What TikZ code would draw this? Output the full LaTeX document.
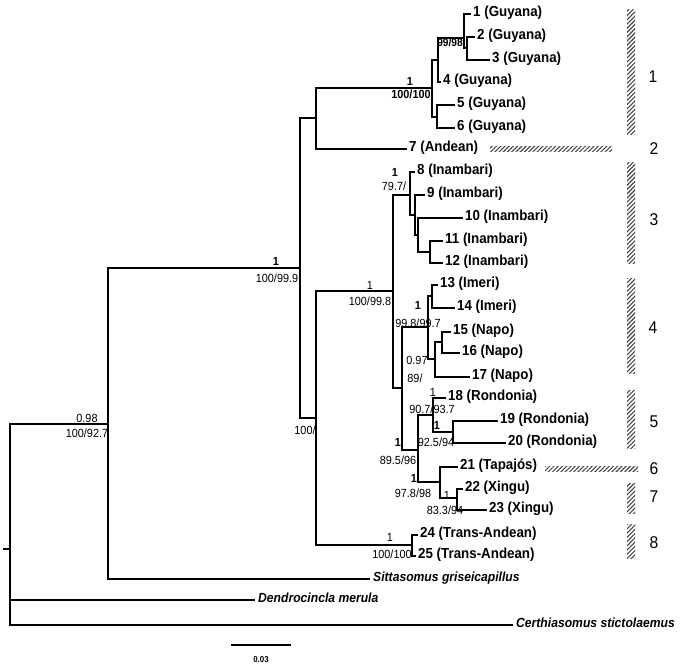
\documentclass[tikz,border=0pt]{standalone}
\usepackage{fontspec}
\setmainfont{Liberation Sans}[FakeStretch=0.92]
\usetikzlibrary{patterns.meta}
\begin{document}
\begin{tikzpicture}[x=1pt,y=-1pt,
  br/.style={line width=1.5pt},
  tip/.style={anchor=west,inner sep=2pt,font=\fontsize{14.5}{15}\selectfont\bfseries,text height=0.72em,text depth=0.2em},
  spc/.style={anchor=west,inner sep=3pt,font=\fontsize{13.2}{15}\selectfont\bfseries\itshape,text height=0.72em,text depth=0.2em},
  sup/.style={inner sep=0pt,font=\fontsize{11.8}{13}\selectfont},
  supb/.style={inner sep=0pt,font=\fontsize{11.8}{13}\selectfont\bfseries},
  clade/.style={inner sep=0pt,font=\fontsize{17}{18}\selectfont},
  hatch/.style={pattern={Lines[angle=45,distance=3pt,line width=1.1pt]},pattern color=black!72}
]
\fill[white] (0,0) rectangle (692,668);
\useasboundingbox (0,0) rectangle (692,668);

% tips
\node[tip] (t1) at (471,14) {1 (Guyana)};
\node[tip] (t2) at (475,37) {2 (Guyana)};
\node[tip] (t3) at (490,60) {3 (Guyana)};
\node[tip] (t4) at (441,82) {4 (Guyana)};
\node[tip] (t5) at (455,105) {5 (Guyana)};
\node[tip] (t6) at (455,128) {6 (Guyana)};
\node[tip] (t7) at (407,149) {7 (Andean)};
\node[tip] (t8) at (415,172) {8 (Inambari)};
\node[tip] (t9) at (425,195) {9 (Inambari)};
\node[tip] (t10) at (463,218) {10 (Inambari)};
\node[tip] (t11) at (443,241) {11 (Inambari)};
\node[tip] (t12) at (443,263) {12 (Inambari)};
\node[tip] (t13) at (438,285) {13 (Imeri)};
\node[tip] (t14) at (455,308) {14 (Imeri)};
\node[tip] (t15) at (451,332) {15 (Napo)};
\node[tip] (t16) at (460,353) {16 (Napo)};
\node[tip] (t17) at (470,377) {17 (Napo)};
\node[tip] (t18) at (446,398) {18 (Rondonia)};
\node[tip] (t19) at (498,421) {19 (Rondonia)};
\node[tip] (t20) at (506,443) {20 (Rondonia)};
\node[tip] (t21) at (458,467) {21 (Tapajós)};
\node[tip] (t22) at (463,489) {22 (Xingu)};
\node[tip] (t23) at (487,510) {23 (Xingu)};
\node[tip] (t24) at (418,535) {24 (Trans-Andean)};
\node[tip] (t25) at (416,556) {25 (Trans-Andean)};
\node[spc] (sSit) at (370,579) {Sittasomus griseicapillus};
\node[spc] (sDen) at (255,600) {Dendrocincla merula};
\node[spc] (sCer) at (513,625) {Certhiasomus stictolaemus};

% internal nodes
\coordinate (n23) at (467,48);
\coordinate (n123) at (464,38);
\coordinate (n1234) at (438,60);
\coordinate (n56) at (437,117);
\coordinate (nG) at (432,88);
\coordinate (nGA) at (316,118);
\coordinate (nTop) at (300,268);
\coordinate (nB) at (316,418);
\coordinate (nC) at (393,291);
\coordinate (nInam) at (410,195);
\coordinate (n9) at (415,215);
\coordinate (n10) at (418,235);
\coordinate (n1112) at (430,252);
\coordinate (nD) at (402,388);
\coordinate (nIN) at (428,327);
\coordinate (n1314) at (432,296);
\coordinate (nNapo) at (435,359);
\coordinate (n1516) at (442,342);
\coordinate (nE) at (418,450);
\coordinate (nRon) at (433,415);
\coordinate (n1920) at (453,432);
\coordinate (nTX) at (440,482);
\coordinate (nX) at (457,498);
\coordinate (nTA) at (412,545);
\coordinate (n098) at (108,424);
\coordinate (root) at (10,549);
\coordinate (rootstub) at (3,549);

% branches
\draw[br] (rootstub) -- (root);
\draw[br] (root) |- (n098);
\draw[br] (root) |- (sDen);
\draw[br] (root) |- (sCer);
\draw[br] (n098) |- (nTop);
\draw[br] (n098) |- (sSit);
\draw[br] (nTop) |- (nGA);
\draw[br] (nTop) |- (nB);
\draw[br] (nGA) |- (nG);
\draw[br] (nGA) |- (t7);
\draw[br] (nG) |- (n1234);
\draw[br] (nG) |- (n56);
\draw[br] (n1234) |- (n123);
\draw[br] (n1234) |- (t4);
\draw[br] (n123) |- (t1);
\draw[br] (n123) |- (n23);
\draw[br] (n23) |- (t2);
\draw[br] (n23) |- (t3);
\draw[br] (n56) |- (t5);
\draw[br] (n56) |- (t6);
\draw[br] (nB) |- (nC);
\draw[br] (nB) |- (nTA);
\draw[br] (nC) |- (nInam);
\draw[br] (nC) |- (nD);
\draw[br] (nInam) |- (t8);
\draw[br] (nInam) |- (n9);
\draw[br] (n9) |- (t9);
\draw[br] (n9) |- (n10);
\draw[br] (n10) |- (t10);
\draw[br] (n10) |- (n1112);
\draw[br] (n1112) |- (t11);
\draw[br] (n1112) |- (t12);
\draw[br] (nD) |- (nIN);
\draw[br] (nD) |- (nE);
\draw[br] (nIN) |- (n1314);
\draw[br] (nIN) |- (nNapo);
\draw[br] (n1314) |- (t13);
\draw[br] (n1314) |- (t14);
\draw[br] (nNapo) |- (n1516);
\draw[br] (nNapo) |- (t17);
\draw[br] (n1516) |- (t15);
\draw[br] (n1516) |- (t16);
\draw[br] (nE) |- (nRon);
\draw[br] (nE) |- (nTX);
\draw[br] (nRon) |- (t18);
\draw[br] (nRon) |- (n1920);
\draw[br] (n1920) |- (t19);
\draw[br] (n1920) |- (t20);
\draw[br] (nTX) |- (t21);
\draw[br] (nTX) |- (nX);
\draw[br] (nX) |- (t22);
\draw[br] (nX) |- (t23);
\draw[br] (nTA) |- (t24);
\draw[br] (nTA) |- (t25);

% support values
\node[supb] (L1a) at (410,81) {1};
\node[supb] (L1b) at (411,94) {100/100};
\node[supb,font=\fontsize{11}{12}\selectfont\bfseries] (L2) at (450,43) {99/98};
\node[supb] (L3a) at (276,261) {1};
\node[sup] (L3b) at (277,278) {100/99.9};
\node[sup] (L4a) at (87,418) {0.98};
\node[sup] (L4b) at (87,433) {100/92.7};
\node[sup] (L5) at (305,430) {100/};
\node[supb] (L6a) at (395,172) {1};
\node[sup] (L6b) at (394,186) {79.7/};
\node[sup] (L7a) at (370,285) {1};
\node[sup] (L7b) at (370,301) {100/99.8};
\node[supb] (L8a) at (418,305) {1};
\node[sup] (L8b) at (418,323) {99.8/99.7};
\node[sup] (L9a) at (417,360) {0.97};
\node[sup] (L9b) at (415,378) {89/};
\node[sup] (L10a) at (433,392) {1};
\node[sup] (L10b) at (432,409) {90.7/93.7};
\node[supb] (L11a) at (437,425) {1};
\node[sup] (L11b) at (436,442) {92.5/94};
\node[supb] (L12a) at (398,442) {1};
\node[sup] (L12b) at (398,460) {89.5/96};
\node[supb] (L13a) at (414,478) {1};
\node[sup] (L13b) at (413,493) {97.8/98};
\node[sup] (L14a) at (447,495) {1};
\node[sup] (L14b) at (445,510) {83.3/94};
\node[sup] (L15a) at (390,537) {1};
\node[sup] (L15b) at (392,554) {100/100};

% clade bars
\path[hatch] (627,10) rectangle (635,135);
\path[hatch] (490,147) rectangle (612,152);
\path[hatch] (627,163) rectangle (635,263);
\path[hatch] (627,278) rectangle (635,373);
\path[hatch] (627,390) rectangle (635,448);
\path[hatch] (545,466) rectangle (638,471);
\path[hatch] (627,483) rectangle (635,513);
\path[hatch] (627,524) rectangle (635,558);
\node[clade] (c1) at (653,77) {1};
\node[clade] (c2) at (654,149) {2};
\node[clade] (c3) at (654,220) {3};
\node[clade] (c4) at (653,328) {4};
\node[clade] (c5) at (654,422) {5};
\node[clade] (c6) at (654,469) {6};
\node[clade] (c7) at (654,497) {7};
\node[clade] (c8) at (654,543) {8};

% scale bar
\coordinate (sb1) at (231,645);
\coordinate (sb2) at (291,645);
\draw[line width=1.5pt] (sb1) -- (sb2);
\node[inner sep=0pt,font=\fontsize{8.6}{10}\selectfont\bfseries] (sbl) at (261,660) {0.03};
\end{tikzpicture}
\end{document}
